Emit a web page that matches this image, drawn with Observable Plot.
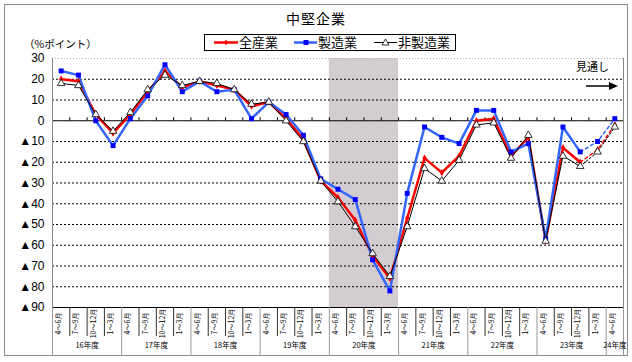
<!DOCTYPE html>
<html><head><meta charset="utf-8">
<script src="https://cdn.jsdelivr.net/npm/d3@7"></script>
<script src="https://cdn.jsdelivr.net/npm/@observablehq/plot@0.6"></script>
<style>
body{margin:0;background:#fff;}
#wrap{position:relative;width:632px;height:362px;font-family:"Noto Sans CJK JP","Liberation Sans",sans-serif;background:#fff;overflow:hidden;}
#frame{position:absolute;left:4px;top:4px;width:622px;height:350px;border:1px solid #8c8c8c;}
#title{position:absolute;left:0;width:632px;top:9px;text-align:center;font-size:14px;line-height:18px;color:#000;letter-spacing:1px;}
#unit{position:absolute;left:24px;top:37px;font-size:10.5px;line-height:14px;}
#mitoshi{position:absolute;left:576px;top:59px;font-size:11px;line-height:14px;}
#chart{position:absolute;left:0;top:0;}
#over{position:absolute;left:0;top:0;}
</style></head>
<body>
<div id="wrap">
  <div id="frame"></div>
  <div id="chart"></div>
  <div id="title">中堅企業</div>
  <div id="unit">（%ポイント）</div>
  <div id="mitoshi">見通し</div>
  <svg id="over" width="632" height="362" style="pointer-events:none">
    <rect x="204.5" y="34.5" width="251" height="16" fill="#fff" stroke="#000" stroke-width="1"/>
    <line x1="214" x2="238" y1="42.5" y2="42.5" stroke="#ff0000" stroke-width="2.5"/>
    <path d="M226,39.5 L228,42.5 L226,45.5 L224,42.5Z" fill="#ff0000"/>
    <text x="239" y="47" font-size="13" font-family="Noto Sans CJK JP">全産業</text>
    <line x1="294" x2="317" y1="42.5" y2="42.5" stroke="#3366ff" stroke-width="2.5"/>
    <rect x="303.5" y="40" width="5" height="5" fill="#0000ff"/>
    <text x="318" y="47" font-size="13" font-family="Noto Sans CJK JP">製造業</text>
    <line x1="374" x2="397" y1="42.5" y2="42.5" stroke="#000" stroke-width="1"/>
    <path d="M385.5,39 L389,45 L382,45Z" fill="#fff" stroke="#000" stroke-width="0.8"/>
    <text x="398" y="47" font-size="13" font-family="Noto Sans CJK JP">非製造業</text>
    <line x1="586" x2="610" y1="86" y2="86" stroke="#000" stroke-width="1.5"/>
    <path d="M609,82 L618,86 L609,90Z" fill="#000"/>
  </svg>
</div>
<script>
// ---- data ----
const fiscalYears = ["16年度","17年度","18年度","19年度","20年度","21年度","22年度","23年度","24年度"];
const quarters = ["4～6月","7～9月","10～12月","1～3月"];
const nPeriods = 33;
const lastActual = 30; // index of last actual quarter; later ones are 見通し
const shadedYear = "20年度";
const zensangyo = [20, 19, 3, -6, 3, 14, 24, 16, 19, 17, 15, 7, 9, 1, -9, -29, -37, -48, -65, -76, -47, -18, -25, -17, 0, 1, -17, -8, -58, -13, -20, -14, -2];
const seizogyo  = [24, 22, 0, -12, 1, 12, 27, 14, 19, 14, 15, 1, 9, 3, -7, -28, -33, -38, -67, -82, -35, -3, -8, -11, 5, 5, -15, -11, -57, -3, -15, -10, 1];
const hiseizo   = [18, 17, 3, -5, 4, 15, 22, 17, 19, 18, 15, 8, 9, 0, -10, -29, -39, -51, -64, -75, -51, -23, -29, -19, -2, -1, -18, -7, -58, -17, -22, -15, -3];
const yTicks = [30, 20, 10, 0, -10, -20, -30, -40, -50, -60, -70, -80, -90];

// ---- derived tables ----
const rows = d3.range(nPeriods).map(i => ({
  i, x: i + 0.5, q: quarters[i % 4], zen: zensangyo[i], sei: seizogyo[i], hi: hiseizo[i]
}));
const actual = rows.filter(d => d.i <= lastActual);
const forecast = rows.filter(d => d.i >= lastActual);
const yearRows = fiscalYears.map((y, k) => {
  const start = k * 4, count = Math.min(4, nPeriods - start);
  return {y, start, center: start + count / 2, end: start + count};
});
const yearBounds = [0, ...yearRows.map(d => d.end)];
const qBounds = d3.range(1, nPeriods).filter(b => b % 4 !== 0);
const allBounds = d3.range(1, nPeriods);
const shade = yearRows.filter(d => d.y === shadedYear);
const grid = yTicks.filter(v => v !== 0 && v !== 30 && v !== -90);

const RED = "#ff0000", BLUE = "#3366ff", BLUE_M = "#0000ff";

const chart = Plot.plot({
  width: 632, height: 362,
  marginTop: 58, marginBottom: 55, marginLeft: 52, marginRight: 9,
  style: {background: "transparent", fontFamily: "'Liberation Sans','Noto Sans CJK JP',sans-serif", overflow: "visible"},
  x: {domain: [0, nPeriods]},
  y: {domain: [-90, 30]},
  marks: [
    Plot.rect(shade, {x1: "start", x2: "end", y1: -90, y2: 30, fill: "#d3ccd0"}),
    Plot.ruleY(grid, {stroke: "#000", strokeWidth: 1, strokeDasharray: "2,2"}),
    Plot.ruleY([30], {stroke: "#b0b0b0", strokeDasharray: "1,2"}),
    Plot.ruleY([0], {stroke: "#000", strokeWidth: 1.2}),
    Plot.ruleX(allBounds, {y1: 0, y2: 0, insetTop: -3, stroke: "#000"}),
    Plot.ruleY([-90], {stroke: "#000"}),
    Plot.ruleX([0], {stroke: "#888"}),
    Plot.ruleX([nPeriods], {stroke: "#888"}),
    Plot.axisY({ticks: yTicks, tickSize: 0, tickPadding: 8, fontSize: 12, label: null,
      tickFormat: d => d < 0 ? "▲" + (-d) : String(d)}),
    Plot.axisX({ticks: qBounds, tickSize: 29, tickFormat: () => "", label: null, stroke: "#333"}),
    Plot.axisX({ticks: yearBounds, tickSize: 49, tickFormat: () => "", label: null, stroke: "#999"}),
    Plot.text(rows, {x: "x", frameAnchor: "bottom", dy: 16, text: "q", rotate: -90, fontSize: 7, fontFamily: "Noto Sans CJK JP"}),
    Plot.text(yearRows, {x: "center", frameAnchor: "bottom", dy: 40, text: "y", fontSize: 7.5, fontFamily: "Noto Sans CJK JP"}),
    // 全産業
    Plot.line(actual, {x: "x", y: "zen", stroke: RED, strokeWidth: 2.5}),
    Plot.line(forecast, {x: "x", y: "zen", stroke: RED, strokeWidth: 1.5, strokeDasharray: "3,3"}),
    // 製造業
    Plot.line(actual, {x: "x", y: "sei", stroke: BLUE, strokeWidth: 2.5}),
    Plot.line(forecast, {x: "x", y: "sei", stroke: BLUE, strokeWidth: 1.5, strokeDasharray: "3,3"}),
    // 非製造業
    Plot.line(actual, {x: "x", y: "hi", stroke: "#000", strokeWidth: 1}),
    Plot.line(forecast, {x: "x", y: "hi", stroke: "#000", strokeWidth: 1, strokeDasharray: "2,2"}),
    Plot.dot(rows, {x: "x", y: "zen", symbol: "diamond", r: 2.2, fill: RED}),
    Plot.dot(rows, {x: "x", y: "sei", symbol: "square", r: 2.8, fill: BLUE_M}),
    Plot.dot(rows, {x: "x", y: "hi", symbol: "triangle", r: 2.8, fill: "#fff", stroke: "#000", strokeWidth: 0.8})
  ]
});
document.getElementById("chart").appendChild(chart);
</script>
</body></html>
